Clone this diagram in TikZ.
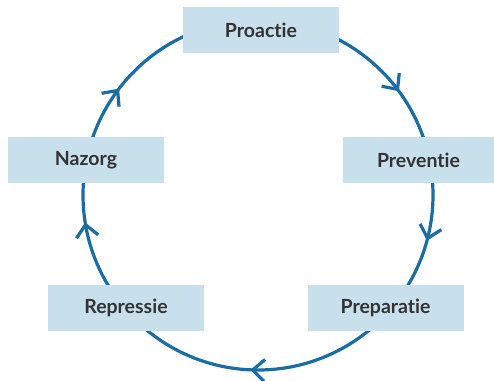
\documentclass[tikz,border=0pt]{standalone}
\usepackage{fontspec}
\setmainfont{Lato}[Ligatures=NoCommon]
\usetikzlibrary{arrows.meta,decorations.markings,calc}
\definecolor{boxfill}{HTML}{C8DFEC}
\definecolor{ringblue}{HTML}{1B6CA3}
\definecolor{txt}{HTML}{333333}
\tikzset{
  phase/.style={fill=boxfill, draw=none, minimum width=156pt, minimum height=46pt,
    inner sep=0pt, text=txt, font=\fontsize{19.5}{22}\selectfont\bfseries},
  barb/.style={ringblue, line width=3.2pt},
}
\begin{document}
\begin{tikzpicture}[x=1pt,y=1pt]
\useasboundingbox (0,0) rectangle (494,380);
\coordinate (c) at (258,185);
\draw[ringblue, line width=3.2pt,
  postaction={decorate, decoration={markings,
    mark=at position 0.042 with {\arrow[barb]{Straight Barb[length=12pt,width=22pt]}},
    mark=at position 0.257 with {\arrow[barb]{Straight Barb[length=12pt,width=22pt]}},
    mark=at position 0.475 with {\arrow[barb]{Straight Barb[length=12pt,width=22pt]}},
    mark=at position 0.604 with {\arrow[barb]{Straight Barb[length=12pt,width=22pt]}},
    mark=at position 0.899 with {\arrow[barb]{Straight Barb[length=12pt,width=22pt]}}}}]
  ($(c)+(175,0)$) arc[start angle=0, end angle=-360, radius=175];
\node[phase] (proactie) at (261,350) {Proactie};
\node[phase] (nazorg) at (86,220) {Nazorg};
\node[phase, minimum width=151pt] (preventie) at (418.5,220) {Preventie};
\node[phase] (repressie) at (126,72.5) {Repressie};
\node[phase] (preparatie) at (385.5,72.5) {Preparatie};
\end{tikzpicture}
\end{document}
